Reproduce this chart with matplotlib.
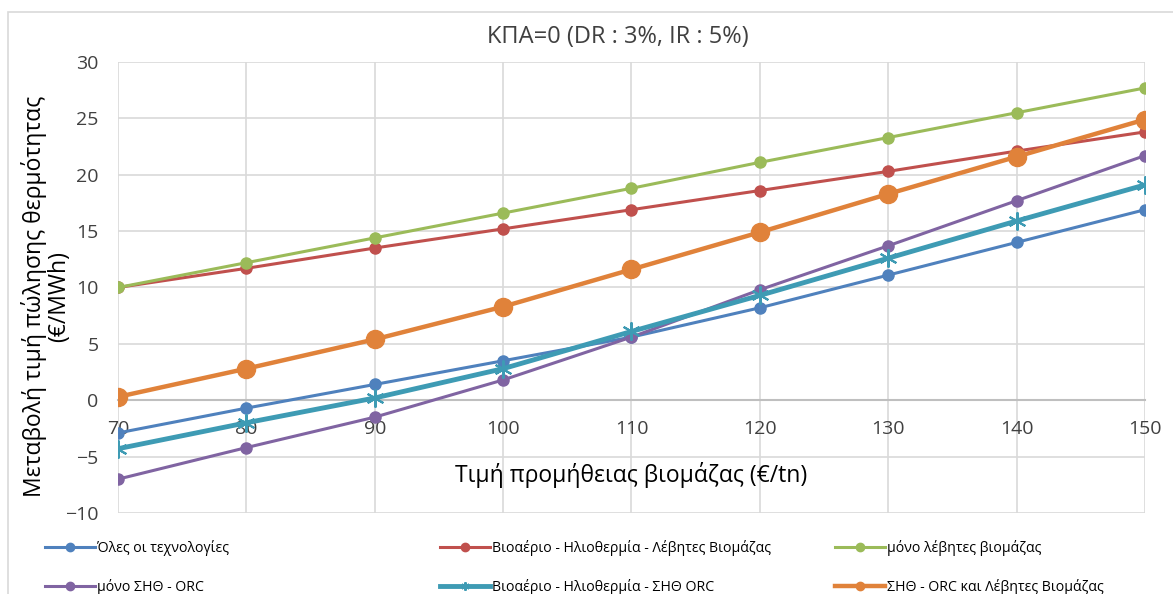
import matplotlib.pyplot as plt
from matplotlib.patches import Rectangle

plt.rcParams['font.family'] = ['Open Sans', 'DejaVu Sans']

# biomass supply price (€/tn)
prices = [70, 80, 90, 100, 110, 120, 130, 140, 150]

# change of heat selling price (€/MWh) per technology mix
all_tech = [-2.9, -0.7, 1.4, 3.5, 5.6, 8.2, 11.1, 14.0, 16.9]
bio_solar_boilers = [10.0, 11.7, 13.5, 15.2, 16.9, 18.6, 20.3, 22.1, 23.8]
boilers_only = [10.0, 12.2, 14.4, 16.6, 18.8, 21.1, 23.3, 25.5, 27.7]
chp_orc_only = [-7.0, -4.2, -1.5, 1.8, 5.6, 9.8, 13.7, 17.7, 21.7]
bio_solar_chp = [-4.3, -2.0, 0.2, 2.8, 6.1, 9.3, 12.6, 15.9, 19.1]
chp_orc_boilers = [0.3, 2.8, 5.4, 8.3, 11.6, 14.9, 18.3, 21.6, 24.9]

labels = ['Όλες οι τεχνολογίες',
          'Βιοαέριο - Ηλιοθερμία - Λέβητες Βιομάζας',
          'μόνο λέβητες βιομάζας',
          'μόνο ΣΗΘ - ORC',
          'Βιοαέριο - Ηλιοθερμία - ΣΗΘ ORC',
          'ΣΗΘ - ORC και Λέβητες Βιομάζας']

fig = plt.figure(figsize=(11.73, 5.94), dpi=100)
ax = fig.add_axes([0.1006, 0.1364, 0.8755, 0.7592])

# chart frame
fig.add_artist(Rectangle((8 / 1173, -0.01), 1.2, 1 - 12 / 594 + 0.01,
                         transform=fig.transFigure, fill=False,
                         edgecolor='#D9D9D9', linewidth=1.2))

styles = [
    dict(color='#4F81BD', lw=2.2, marker='o', ms=8),
    dict(color='#C0504D', lw=2.2, marker='o', ms=8),
    dict(color='#9BBB59', lw=2.2, marker='o', ms=8),
    dict(color='#8064A2', lw=2.2, marker='o', ms=8),
    dict(color='#3E9BB4', lw=3.5, marker=(6, 2, 0), ms=13, mew=1.5),
    dict(color='#E0823A', lw=3.2, marker='o', ms=13),
]
series = [all_tech, bio_solar_boilers, boilers_only,
          chp_orc_only, bio_solar_chp, chp_orc_boilers]

handles = []
for vals, st, lab in zip(series, styles, labels):
    h, = ax.plot(prices, vals, color=st['color'], linewidth=st['lw'],
                 marker=st['marker'], markersize=st['ms'],
                 markeredgewidth=st.get('mew', 1.0), label=lab, zorder=3)
    handles.append(h)

ax.set_xlim(70, 150)
ax.set_ylim(-10, 30)
ax.set_xticks(prices)
ax.set_yticks(range(-10, 31, 5))
ax.grid(True, color='#D9D9D9', linewidth=1.2)
ax.set_axisbelow(True)
for s in ['top', 'right', 'left']:
    ax.spines[s].set_visible(False)
ax.spines['bottom'].set_position(('data', 0))
ax.spines['bottom'].set_color('#BFBFBF')
ax.spines['bottom'].set_linewidth(1.5)
ax.spines['bottom'].set_zorder(2)
ax.tick_params(axis='both', length=0, labelsize=14, labelcolor='#404040')
ax.tick_params(axis='x', pad=14)
ax.tick_params(axis='y', pad=14)

ax.set_xlabel('Τιμή προμήθειας βιομάζας (€/tn)', fontsize=16.5, color='#000000')
ax.xaxis.set_label_coords(0.5, 0.084)
ax.xaxis.label.set_verticalalignment('center')
ax.set_ylabel('Μεταβολή τιμή πώλησης θερμότητας\n(€/MWh)', fontsize=16.5,
              linespacing=1.0)
ax.yaxis.set_label_coords(-0.046, 0.48)

fig.text(0.527, 1 - 37 / 594, 'ΚΠΑ=0 (DR : 3%, IR : 5%)', fontsize=17,
         ha='center', va='center', color='#404040')

# one legend per column so the columns sit at fixed positions
col_x = [45 / 1173, 440 / 1173, 835 / 1173]
for i, x0 in enumerate(col_x):
    leg = fig.legend(handles=[handles[i], handles[i + 3]],
                     labels=[labels[i], labels[i + 3]],
                     loc='upper left', bbox_to_anchor=(x0, 1 - 540 / 594),
                     frameon=False, fontsize=10.2, handlelength=3.5,
                     handletextpad=0.2, labelspacing=1.6,
                     borderaxespad=0, borderpad=0)
    for lh in leg.legend_handles:
        lh.set_markersize(6)

fig.savefig('out.png', dpi=100)
